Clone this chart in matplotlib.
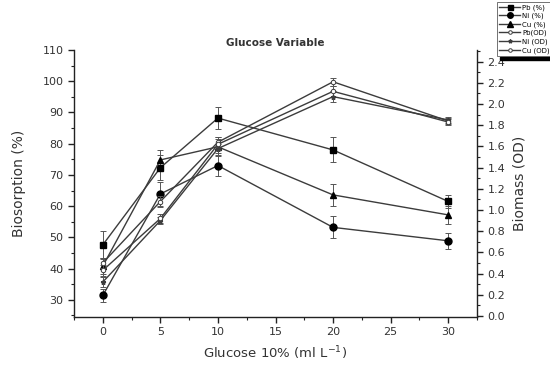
import matplotlib
matplotlib.use("Agg")
import matplotlib.pyplot as plt
from matplotlib.ticker import MultipleLocator, FormatStrFormatter

# Glucose dose (ml L-1 of a 10% solution)
glucose = [0, 5, 10, 20, 30]

# Biosorption (%) per metal, with standard deviations
pb_pct = [47.6, 72.3, 88.2, 78.0, 61.5]
pb_pct_err = [4.5, 4.0, 3.5, 4.0, 2.0]
ni_pct = [31.4, 63.9, 73.0, 53.2, 48.9]
ni_pct_err = [2.0, 3.8, 3.5, 3.5, 2.5]
cu_pct = [40.8, 74.8, 79.0, 63.6, 57.2]
cu_pct_err = [2.5, 3.2, 3.0, 3.5, 3.0]

# Biomass (OD) in each metal system, with standard deviations
pb_od = [0.50, 1.08, 1.64, 2.21, 1.84]
pb_od_err = [0.05, 0.05, 0.05, 0.04, 0.03]
ni_od = [0.32, 0.90, 1.58, 2.07, 1.85]
ni_od_err = [0.05, 0.03, 0.04, 0.05, 0.03]
cu_od = [0.43, 0.92, 1.62, 2.12, 1.83]
cu_od_err = [0.05, 0.04, 0.05, 0.05, 0.03]

line_c = "#3c3c3c"
text_c = "#333333"

fig = plt.figure(figsize=(5.5, 3.66), dpi=100)
ax = fig.add_axes([74 / 550, 1 - 317 / 366, (477 - 74) / 550, (317 - 50) / 366])
ax2 = ax.twinx()

common = dict(color=line_c, lw=1.0, elinewidth=0.7, capsize=2.5, capthick=0.7,
              ecolor="#555555")

h1 = ax.errorbar(glucose, pb_pct, yerr=pb_pct_err, marker="s", ms=4.5,
                 mfc="black", mec="black", label="Pb (%)", **common)
h2 = ax.errorbar(glucose, ni_pct, yerr=ni_pct_err, marker="o", ms=5,
                 mfc="black", mec="black", label="Ni (%)", **common)
h3 = ax.errorbar(glucose, cu_pct, yerr=cu_pct_err, marker="^", ms=5,
                 mfc="black", mec="black", label="Cu (%)", **common)
h4 = ax2.errorbar(glucose, pb_od, yerr=pb_od_err, marker="o", ms=3.2,
                  mfc="white", mec=line_c, mew=0.7, label="Pb(OD)", **common)
h5 = ax2.errorbar(glucose, ni_od, yerr=ni_od_err, marker="*", ms=3.5,
                  mfc=line_c, mec=line_c, label="Ni (OD)", **common)
h6 = ax2.errorbar(glucose, cu_od, yerr=cu_od_err, marker="o", ms=3.2,
                  mfc="white", mec=line_c, mew=0.7, label="Cu (OD)", **common)

ax.set_xlim(-2.5, 32.5)
ax.set_ylim(24.5, 110)
ax2.set_ylim(-0.01, 2.51)

ax.xaxis.set_major_locator(MultipleLocator(5))
ax.xaxis.set_minor_locator(MultipleLocator(2.5))
ax.yaxis.set_major_locator(MultipleLocator(10))
ax.yaxis.set_minor_locator(MultipleLocator(5))
ax2.yaxis.set_major_locator(MultipleLocator(0.2))
ax2.yaxis.set_minor_locator(MultipleLocator(0.1))
ax2.yaxis.set_major_formatter(FormatStrFormatter("%.1f"))

for a in (ax, ax2):
    a.spines["top"].set_visible(False)
    for s in a.spines.values():
        s.set_linewidth(1.0)
        s.set_color("#222222")
    a.tick_params(which="major", direction="out", length=4, width=1.0,
                  labelsize=8, colors="#222222", labelcolor=text_c)
    a.tick_params(which="minor", direction="out", length=2.5, width=0.8,
                  colors="#222222")
ax.spines["right"].set_visible(False)
ax2.spines["left"].set_visible(False)
ax2.spines["bottom"].set_visible(False)

ax.set_xlabel("Glucose 10% (ml L$^{-1}$)", fontsize=9.5, color=text_c, labelpad=5)
ax.set_ylabel("Biosorption (%)", fontsize=10, color=text_c, labelpad=12)
ax2.set_ylabel("Biomass (OD)", fontsize=10, color=text_c, labelpad=5)
ax.set_title("Glucose Variable", fontsize=7.5, fontweight="bold", color=text_c, pad=3)

# legend keys show only line + marker (no error bar glyphs)
handles = [h[0] for h in (h1, h2, h3, h4, h5, h6)]
leg = fig.legend(handles,
                 ["Pb (%)", "Ni (%)", "Cu (%)", "Pb(OD)", "Ni (OD)", "Cu (OD)"],
                 loc="upper left", bbox_to_anchor=(497 / 550, 1 - 2 / 366),
                 fontsize=5, frameon=True, fancybox=False, shadow=False,
                 handlelength=3.0, handletextpad=0.3, borderpad=0.3,
                 labelspacing=0.3, markerscale=0.8, borderaxespad=0)
leg.get_frame().set_edgecolor("#333333")
leg.get_frame().set_linewidth(0.6)

# thick shadow bar just under the legend box
fig.canvas.draw()
bb = leg.get_window_extent().transformed(fig.transFigure.inverted())
fig.patches.append(plt.Rectangle((bb.x0 + 3 / 550, bb.y0 - 4 / 366), 80 / 550, 3 / 366,
                                 transform=fig.transFigure, color="black",
                                 zorder=5))

fig.savefig("out.png", dpi=100)
